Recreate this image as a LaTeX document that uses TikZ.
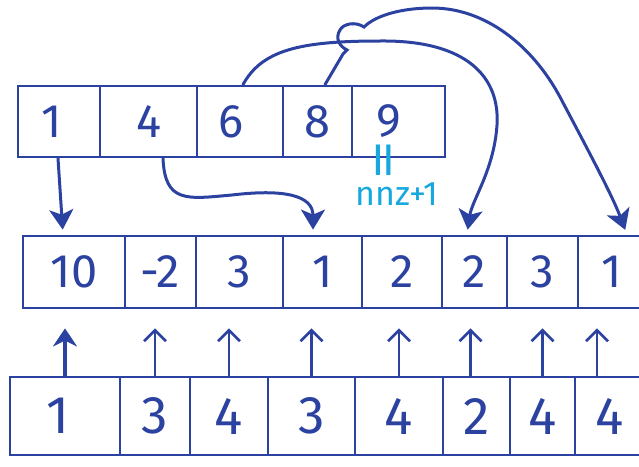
\documentclass[tikz,border=0pt]{standalone}
\usepackage{fontspec}
\setmainfont{Fira Sans}
\usetikzlibrary{arrows.meta}
\definecolor{ink}{RGB}{44,66,160}
\definecolor{note}{RGB}{24,168,222}
\tikzset{
  cell/.style={draw=ink, line width=2.8pt, inner sep=0pt, text=ink,
    font=\fontsize{47}{47}\selectfont},
  toprow/.style={cell, minimum height=71pt},
  midrow/.style={cell, minimum height=72pt},
  botrow/.style={cell, minimum height=78pt, font=\fontsize{53}{53}\selectfont},
  link/.style={ink, line width=3pt, line cap=round,
    -{Stealth[length=20pt,width=24pt,inset=5pt]}, shorten >=5pt},
  upmark/.style={ink, line width=2.6pt, line cap=round,
    -{Straight Barb[length=11pt,width=22pt,line width=2.6pt]}, shorten >=19pt},
  upbold/.style={ink, line width=4.5pt,
    -{Stealth[length=18pt,width=24pt]}, shorten >=19pt},
  annot/.style={text=note, inner sep=0pt},
}

\begin{document}
\begin{tikzpicture}[x=1pt,y=-1pt]
\useasboundingbox (0,0) rectangle (639,466);
\clip (0,0) rectangle (639,466);

% row pointer array
\node[toprow, minimum width=82pt] (t1) at (59,121.5)   {\kern-14pt 1};
\node[toprow, minimum width=97pt] (t2) at (148.5,121.5) {4};
\node[toprow, minimum width=86pt] (t3) at (240,121.5)  {\kern-18pt 6};
\node[toprow, minimum width=69pt] (t4) at (317.5,121.5) {8};
\node[toprow, minimum width=93pt] (t5) at (398.5,121.5) {\kern-20pt 9};

% value array
\node[midrow, minimum width=102pt] (m1) at (74,272)    {10};
\node[midrow, minimum width=71pt]  (m2) at (160.5,272) {-2};
\node[midrow, minimum width=87pt]  (m3) at (239.5,272) {3};
\node[midrow, minimum width=79pt]  (m4) at (322.5,272) {1};
\node[midrow, minimum width=80pt]  (m5) at (402,272)   {2};
\node[midrow, minimum width=65pt]  (m6) at (474.5,272) {2};
\node[midrow, minimum width=71pt]  (m7) at (542.5,272) {3};
\node[midrow, minimum width=67pt]  (m8) at (611.5,272) {1};

% column index array
\node[botrow, minimum width=110pt] (b1) at (65,416)    {\kern-14pt 1};
\node[botrow, minimum width=70pt]  (b2) at (155,416)   {3};
\node[botrow, minimum width=78pt]  (b3) at (229,416)   {4};
\node[botrow, minimum width=87pt]  (b4) at (311.5,416) {3};
\node[botrow, minimum width=88pt]  (b5) at (399,416)   {4};
\node[botrow, minimum width=67pt]  (b6) at (476.5,416) {2};
\node[botrow, minimum width=65pt]  (b7) at (542.5,416) {4};
\node[botrow, minimum width=70pt]  (b8) at (610,416)   {4};

% column index -> value
\draw[upbold] (b1.north) -- (b1.north |- m1.south);
\draw[upmark] (b2.north) -- (b2.north |- m2.south);
\draw[upmark] (b3.north) -- (b3.north |- m3.south);
\draw[upmark] (b4.north) -- (b4.north |- m4.south);
\draw[upmark] (b5.north) -- (b5.north |- m5.south);
\draw[upmark] ([xshift=-6pt]b6.north) -- ([xshift=-6pt]b6.north |- m6.south);
\draw[upmark] (b7.north) -- (b7.north |- m7.south);
\draw[upmark] ([xshift=-13pt]b8.north) -- ([xshift=-13pt]b8.north |- m8.south);

% row pointers -> first value of each row
\draw[link] ([xshift=-1pt]t1.south) -- ([xshift=-11pt]m1.north);
\draw[link] ([xshift=14.5pt]t2.south)
  .. controls +(2,45) and +(-45,4) .. (232,195)
  .. controls +(50,-6) and +(0,-40) .. ([xshift=-9.5pt]m4.north);
\draw[link] ([xshift=3pt]t3.north)
  .. controls (262,50) and (300,41) .. (380,41)
  .. controls (468,40) and (500,78) .. (497,125)
  .. controls (494,170) and (472,200) .. ([xshift=-7.5pt]m6.north);
\draw[link] ([xshift=7.5pt]t4.north) -- (343,54) -- (347,50)
  .. controls (339,46) and (335,38) .. (340,30)
  .. controls (343,24) and (355,21) .. (364,27)
  .. controls (375,16) and (400,8) .. (432,8)
  .. controls (485,8) and (532,45) .. (560,97)
  .. controls (588,150) and (612,195) .. ([xshift=15.5pt]m8.north);

% last pointer equals nnz+1
\node[annot, rotate=90, font=\fontsize{54}{54}\selectfont] (eq) at (389,160)
  {\scalebox{1.5}[1]{=}};
\node[annot, font=\fontsize{34}{34}\selectfont] (nnz) at (397,194) {nnz+1};
\end{tikzpicture}
\end{document}
